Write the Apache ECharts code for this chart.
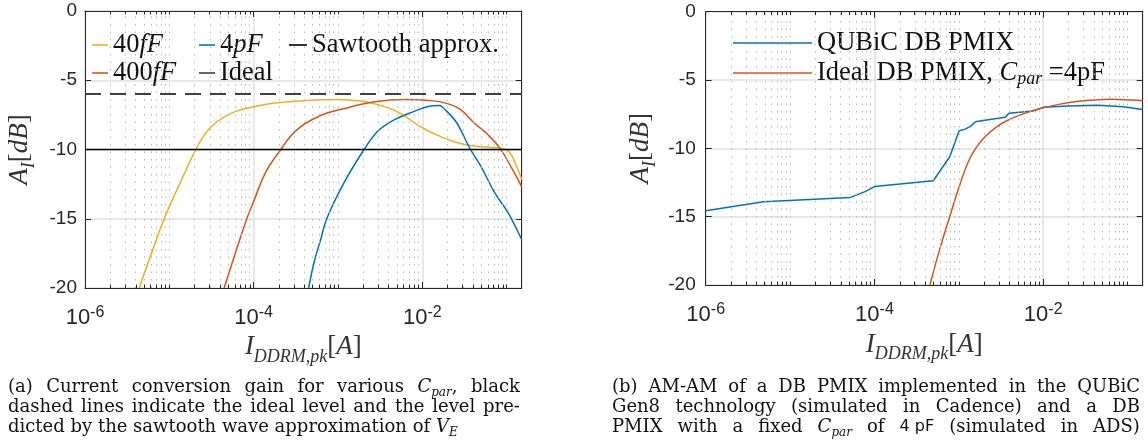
<!DOCTYPE html>
<html>
<head>
<meta charset="utf-8">
<script src="https://cdn.jsdelivr.net/npm/echarts@6/dist/echarts.min.js"></script>
<style>
  html, body { margin: 0; padding: 0; background: #fff; }
  #wrap { position: relative; width: 1148px; height: 448px; }
  #chart { position: absolute; left: 0; top: 0; width: 1148px; height: 448px; }
  .cap { position: absolute; font-family: "DejaVu Serif", serif; font-size: 18px; color: #111; }
  .ln { height: 20px; line-height: 20px; white-space: nowrap; }
  .ln.j { display: flex; justify-content: space-between; }
  .cap i { font-style: italic; }
  .cap sub { font-size: 12px; vertical-align: -4px; line-height: 0; font-style: italic; }
  .cap .sf { font-family: "DejaVu Sans", sans-serif; font-size: 16px; }
</style>
</head>
<body>
<div id="wrap">
  <div id="chart"></div>
  <div class="cap" style="left:8px; top:376px; width:512px;">
    <div class="ln j"><span>(a)</span><span>Current</span><span>conversion</span><span>gain</span><span>for</span><span>various</span><span><i>C</i><sub>par</sub>,</span><span>black</span></div>
    <div class="ln j"><span>dashed</span><span>lines</span><span>indicate</span><span>the</span><span>ideal</span><span>level</span><span>and</span><span>the</span><span>level</span><span>pre-</span></div>
    <div class="ln">dicted by the sawtooth wave approximation of <i>V</i><sub>E</sub></div>
  </div>
  <div class="cap" style="left:612px; top:376px; width:528px;">
    <div class="ln j"><span>(b)</span><span>AM-AM</span><span>of</span><span>a</span><span>DB</span><span>PMIX</span><span>implemented</span><span>in</span><span>the</span><span>QUBiC</span></div>
    <div class="ln j"><span>Gen8</span><span>technology</span><span>(simulated</span><span>in</span><span>Cadence)</span><span>and</span><span>a</span><span>DB</span></div>
    <div class="ln j"><span>PMIX</span><span>with</span><span>a</span><span>fixed</span><span><i>C</i><sub>par</sub></span><span>of</span><span class="sf">4 pF</span><span>(simulated</span><span>in</span><span>ADS)</span></div>
  </div>
</div>
<script>
// x range (A), shared by both panels
const X_MIN = 1e-6;
const X_MAX = 0.151;

// panel (a): [I_DDRM,pk (A), A_I (dB)]
const cpar40fF = [
  [4.40e-6, -20], [6.14e-6, -17.5], [8.70e-6, -15], [1.324e-5, -12.5], [2.06e-5, -10],
  [2.57e-5, -9.0], [3.20e-5, -8.3], [4.20e-5, -7.75], [6.15e-5, -7.25], [1.033e-4, -6.9],
  [1.78e-4, -6.65], [4.63e-4, -6.45], [9.68e-4, -6.39], [1.86e-3, -6.5], [3.95e-3, -6.99],
  [5.73e-3, -7.47], [1.0e-2, -8.43], [1.61e-2, -9.04], [2.82e-2, -9.57], [4.94e-2, -9.8],
  [7.9e-2, -9.88], [0.1044, -10.1], [0.126, -10.96], [0.151, -12.17]
];
const cpar400fF = [
  [4.47e-5, -20], [5.98e-5, -17.6], [8.30e-5, -15], [1.0e-4, -13.75], [1.40e-4, -11.6],
  [2.10e-4, -10], [2.69e-4, -9.1], [3.53e-4, -8.4], [4.89e-4, -7.85], [7.57e-4, -7.35],
  [1.31e-3, -6.98], [2.73e-3, -6.55], [6.29e-3, -6.39], [1.21e-2, -6.46], [1.94e-2, -6.67],
  [2.82e-2, -7.1], [4.10e-2, -8.07], [5.97e-2, -8.92], [8.26e-2, -9.88], [0.1146, -11.33],
  [0.151, -12.7]
];
const cpar4pF = [
  [4.49e-4, -20], [5.28e-4, -18], [6.24e-4, -16.5], [7.36e-4, -15], [1.156e-3, -12.5],
  [2.04e-3, -10], [2.98e-3, -8.67], [4.74e-3, -7.83], [7.59e-3, -7.3], [1.21e-2, -6.87],
  [1.58e-2, -6.82], [1.94e-2, -7.23], [2.56e-2, -8.07], [3.73e-2, -10], [4.94e-2, -11.2],
  [7.19e-2, -13.1], [0.1044, -14.58], [0.151, -16.5]
];
const idealLevel = [[X_MIN, -6], [X_MAX, -6]];
const sawtoothLevel = [[X_MIN, -10], [X_MAX, -10]];

// panel (b)
const qubicPmix = [
  [1e-6, -14.56], [4.85e-6, -13.9], [5.18e-5, -13.59], [7.76e-5, -13.17], [1e-4, -12.8],
  [4.98e-4, -12.37], [7.83e-4, -10.6], [1.007e-3, -8.71], [1.17e-3, -8.61], [1.36e-3, -8.41],
  [1.58e-3, -8.05], [1.85e-3, -7.98], [3.55e-3, -7.73], [3.92e-3, -7.44], [7.55e-3, -7.27],
  [1e-2, -7.0], [1.95e-2, -6.9], [4.4e-2, -6.85], [8.9e-2, -6.95], [0.151, -7.15]
];
const idealPmix = [
  [4.54e-4, -20], [5.86e-4, -17.5], [7.80e-4, -15], [1.011e-3, -12.8], [1.29e-3, -11],
  [1.585e-3, -10], [2.0e-3, -9.2], [2.70e-3, -8.5], [3.65e-3, -8.0], [5.35e-3, -7.55],
  [8.05e-3, -7.2], [1.06e-2, -7.0], [1.96e-2, -6.66], [3.98e-2, -6.46], [6.56e-2, -6.41],
  [0.1086, -6.46], [0.151, -6.51]
];

// minor log grid positions (2..9 x 10^n, plus odd decades), as exponents
const minorGridExp = [];
for (let e = -6; e < 0; e++) {
  for (let k = 2; k <= 10; k++) {
    const v = k * Math.pow(10, e);
    if (v < X_MAX && !(k === 10 && (e + 1) % 2 === 0)) minorGridExp.push(Math.log10(v));
  }
}

const C_BLUE = '#0072BD', C_RED = '#D95319', C_YEL = '#EDB120', AX = '#262626';
const SERIF = 'Liberation Serif';

const chart = echarts.init(document.getElementById('chart'));

const tickFmt = v => {
  const l = Math.log10(v), e = Math.round(l);
  if (Math.abs(l - e) > 1e-6) return '';
  return '{b|10}{s|' + e + '}';
};

const nameRich = {
  i: { fontFamily: SERIF, fontStyle: 'italic', fontSize: 27, color: '#333', lineHeight: 32, verticalAlign: 'top' },
  n: { fontFamily: SERIF, fontSize: 27, color: '#333', lineHeight: 32, verticalAlign: 'top' },
  s: { fontFamily: SERIF, fontStyle: 'italic', fontSize: 18, color: '#333', lineHeight: 19, verticalAlign: 'bottom' }
};

function xBottom(grid, gap) {
  return {
    type: 'log', logBase: 10, gridIndex: grid, min: X_MIN, max: X_MAX, interval: 2,
    axisLine: { show: true, onZero: false, lineStyle: { color: AX, width: 1 } },
    axisTick: { show: true, inside: true, length: 6, lineStyle: { color: AX } },
    axisLabel: {
      formatter: tickFmt, margin: 17,
      rich: {
        b: { fontFamily: 'Liberation Sans', fontSize: 22, color: AX, lineHeight: 24, verticalAlign: 'bottom' },
        s: { fontFamily: 'Liberation Sans', fontSize: 16, color: AX, lineHeight: 20, verticalAlign: 'top' }
      }
    },
    splitLine: { show: true, lineStyle: { color: '#e0e0e0', width: 1.5 } },
    name: '{i|I}{s|DDRM,pk}{n|[}{i|A}{n|]}',
    nameLocation: 'middle', nameGap: gap,
    nameTextStyle: { rich: nameRich }
  };
}
function xTop(grid) {
  return {
    type: 'log', logBase: 10, gridIndex: grid, min: X_MIN, max: X_MAX, interval: 2, position: 'top',
    axisLine: { show: true, onZero: false, lineStyle: { color: AX, width: 1 } },
    axisTick: { show: true, inside: true, length: 6, lineStyle: { color: AX } },
    axisLabel: { show: false }, splitLine: { show: false }
  };
}
// hidden exponent axis used to place the minor grid
function xExp(grid) {
  return { type: 'value', gridIndex: grid, min: -6, max: Math.log10(X_MAX), show: false };
}
function yLeft(grid, gap, margin) {
  return {
    type: 'value', gridIndex: grid, min: -20, max: 0, interval: 5,
    axisLine: { show: true, onZero: false, lineStyle: { color: AX, width: 1 } },
    axisTick: { show: true, inside: true, length: 6, lineStyle: { color: AX } },
    axisLabel: { fontFamily: 'Liberation Sans', fontSize: 19, color: AX, margin: margin },
    splitLine: { show: true, lineStyle: { color: '#e0e0e0', width: 1.5 } },
    name: '{i|A}{s|I}{n|[}{i|dB}{n|]}',
    nameLocation: 'middle', nameGap: gap, nameRotate: 90,
    nameTextStyle: { rich: nameRich }
  };
}
function yRight(grid) {
  return {
    type: 'value', gridIndex: grid, min: -20, max: 0, interval: 5, position: 'right',
    axisLine: { show: true, onZero: false, lineStyle: { color: AX, width: 1 } },
    axisTick: { show: true, inside: true, length: 6, lineStyle: { color: AX } },
    axisLabel: { show: false }, splitLine: { show: false }
  };
}

// dotted minor grid + short minor ticks on bottom / top edges
function minorGrid(xi, yi) {
  const data = [];
  const tick = { color: AX, type: 'solid', width: 1 };
  minorGridExp.forEach(v => {
    data.push({ xAxis: v, lineStyle: { color: '#b8b8b8', type: [1.5, 6], width: 1 } });
    data.push([{ coord: [v, -20], lineStyle: tick }, { coord: [v, -19.75] }]);
    data.push([{ coord: [v, 0], lineStyle: tick }, { coord: [v, -0.25] }]);
  });
  return {
    type: 'line', xAxisIndex: xi, yAxisIndex: yi, data: [], silent: true, z: 1,
    markLine: { silent: true, symbol: 'none', label: { show: false }, animation: false, data: data }
  };
}

function curve(name, data, color, xi, yi, extra) {
  return Object.assign({
    name: name, type: 'line', data: data, xAxisIndex: xi, yAxisIndex: yi,
    showSymbol: false, symbol: 'none', smooth: 0.45, z: 3,
    lineStyle: { color: color, width: 1.5 }, itemStyle: { color: color }
  }, extra || {});
}

const LEG_FS = 26.5;
const legFmt = n => ({
  '40fF': '40{i|fF}', '400fF': '400{i|fF}', '4pF': '4{i|pF}',
  'Ideal DB PMIX, Cpar =4pF': 'Ideal DB PMIX, {i|C}{s|par} =4pF'
}[n] || n);
function legend(names, left, top, w, lh) {
  return {
    data: names, orient: 'vertical', left: left, top: top, padding: 0, itemGap: 0,
    itemWidth: w, itemHeight: 1.6, icon: 'rect', formatter: legFmt, selectedMode: false,
    textStyle: {
      fontFamily: SERIF, fontSize: LEG_FS, color: '#111', lineHeight: lh,
      rich: {
        i: { fontFamily: SERIF, fontStyle: 'italic', fontSize: LEG_FS, color: '#111', lineHeight: lh },
        s: { fontFamily: SERIF, fontStyle: 'italic', fontSize: 18, color: '#111', lineHeight: 19, verticalAlign: 'bottom' }
      }
    }
  };
}

chart.setOption({
  animation: false,
  grid: [
    { left: 85, top: 11, width: 436.7, height: 277 },
    { left: 705.7, top: 11.7, width: 437, height: 273.3 }
  ],
  xAxis: [xBottom(0, 43), xTop(0), xBottom(1, 46), xTop(1), xExp(0), xExp(1)],
  yAxis: [yLeft(0, 47, 8), yRight(0), yLeft(1, 46, 10), yRight(1)],
  legend: [
    legend(['40fF', '400fF'], 92, 31, 16, 28),
    legend(['4pF', 'Ideal'], 199, 31, 16, 28),
    legend(['Sawtooth approx.'], 289, 31, 18, 28),
    legend(['QUBiC DB PMIX', 'Ideal DB PMIX, Cpar =4pF'], 733, 28, 79, 30)
  ],
  series: [
    minorGrid(4, 0),
    minorGrid(5, 2),
    curve('40fF', cpar40fF, C_YEL, 0, 0),
    curve('400fF', cpar400fF, C_RED, 0, 0),
    curve('4pF', cpar4pF, C_BLUE, 0, 0, { smooth: 0.35 }),
    curve('Ideal', idealLevel, '#404040', 0, 0, { smooth: false, lineStyle: { color: '#404040', width: 2, type: [16, 9] } }),
    curve('Sawtooth approx.', sawtoothLevel, '#000', 0, 0, { smooth: false, lineStyle: { color: '#000', width: 1.5 } }),
    curve('QUBiC DB PMIX', qubicPmix, C_BLUE, 2, 2, { smooth: false }),
    curve('Ideal DB PMIX, Cpar =4pF', idealPmix, C_RED, 2, 2)
  ]
});
</script>
</body>
</html>
